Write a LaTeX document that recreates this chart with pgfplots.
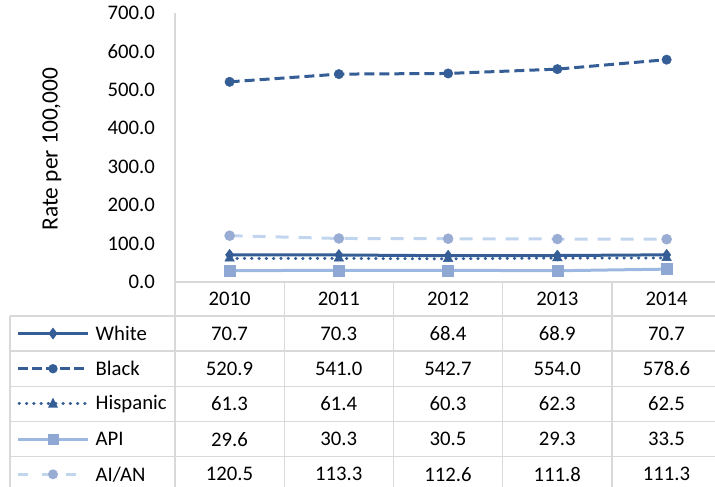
\documentclass[border=0pt]{standalone}
\usepackage{pgfplots}
\pgfplotsset{compat=1.18}
\usepackage{fontspec}
\setmainfont{Carlito}
\definecolor{dk}{HTML}{355E96}
\definecolor{apiL}{HTML}{9DB8E0}
\definecolor{apiM}{HTML}{8EA8D3}
\definecolor{aiL}{HTML}{C2D5EE}
\definecolor{aiM}{HTML}{98ACD4}
\definecolor{grd}{HTML}{D9D9D9}
\begin{document}
\fontsize{20.8}{24}\selectfont
\begin{tikzpicture}
\useasboundingbox (0,0) rectangle (715bp,-487bp);
\begin{axis}[
  at={(175bp,-282bp)}, anchor=south west,
  scale only axis, width=546.25bp, height=269bp,
  xmin=-0.5, xmax=4.5, ymin=0, ymax=700,
  axis x line*=bottom, axis y line*=left,
  axis line style={grd, line width=1.3bp, -},
  xtick=\empty,
  ytick={0,100,...,700},
  major tick length=0pt,
  /pgf/number format/assume math mode=true,
  y tick label style={/pgf/number format/.cd, fixed, fixed zerofill, precision=1, /tikz/.cd},
  yticklabel style={inner sep=0pt, anchor=east, xshift=-20bp},
  tick label style={font=\fontsize{20.8}{24}\selectfont},
  clip=false,
]
\addplot[dk, line width=3bp, mark=diamond*, mark size=5.5bp, mark options={solid, line width=0.5bp, fill=dk}] coordinates {(0,70.7)(1,70.3)(2,68.4)(3,68.9)(4,70.7)};
\addplot[dk, line width=3bp, dash pattern=on 10bp off 5bp, mark=*, mark size=4.7bp, mark options={solid, line width=0.5bp, fill=dk}] coordinates {(0,520.9)(1,541.0)(2,542.7)(3,554.0)(4,578.6)};
\addplot[dk, line width=3bp, line cap=round, dash pattern=on 0.5bp off 6.8bp, mark=triangle*, mark size=5.5bp, mark options={solid, line width=0.5bp, fill=dk}] coordinates {(0,61.3)(1,61.4)(2,60.3)(3,62.3)(4,62.5)};
\addplot[apiL, line width=3bp, mark=square*, mark size=5.5bp, mark options={solid, line width=0.5bp, draw=apiM, fill=apiM}] coordinates {(0,29.6)(1,30.3)(2,30.5)(3,29.3)(4,33.5)};
\addplot[aiL, line width=3bp, dash pattern=on 13bp off 10bp, mark=*, mark size=5bp, mark options={solid, line width=0.5bp, draw=aiM, fill=aiM}] coordinates {(0,120.5)(1,113.3)(2,112.6)(3,111.8)(4,111.3)};
\end{axis}
\begin{scope}[x=1bp, y=-1bp]
\node[rotate=90, font=\fontsize{23.5}{28}\selectfont] at (52,149) {Rate per 100,000};
% table grid
\draw[grd, line width=1.3bp] (10,316) -- (715,316);
\foreach \yy in {351,386.5,421.5,456.5} {\draw[grd, line width=1.3bp] (10,\yy) -- (715,\yy);}
\draw[grd, line width=1.3bp] (10,316) -- (10,492);
\draw[grd, line width=1.3bp] (175,282) -- (175,492);
\foreach \xx in {284.25,393.5,502.75,612} {\draw[grd, line width=1.3bp] (\xx,282) -- (\xx,492);}
% header
\foreach \yr [count=\i from 0] in {2010,2011,2012,2013,2014} {\node at (229.6+109.25*\i,299) {\yr};}
% rows
\foreach \a/\b/\c/\d/\e [count=\r from 0] in {70.7/70.3/68.4/68.9/70.7, 520.9/541.0/542.7/554.0/578.6, 61.3/61.4/60.3/62.3/62.5, 29.6/30.3/30.5/29.3/33.5, 120.5/113.3/112.6/111.8/111.3} {
  \pgfmathsetmacro{\yc}{333.5+35.2*\r}
  \node at (229.6,\yc) {\a};
  \node at (338.85,\yc) {\b};
  \node at (448.1,\yc) {\c};
  \node at (557.35,\yc) {\d};
  \node at (666.6,\yc) {\e};
}
% legend keys
\foreach \t [count=\r from 0] in {White,Black,Hispanic,API,AI/AN} {
  \pgfmathsetmacro{\yc}{333.5+35.2*\r}
  \node[anchor=west, inner sep=0pt] at (95.5,\yc) {\t};
}
\draw[dk, line width=3bp] (18,333.5) -- (88,333.5);
\fill[dk] (53,327.5) -- (57.5,333.5) -- (53,339.5) -- (48.5,333.5) -- cycle;
\draw[dk, line width=3bp, dash pattern=on 10bp off 4bp] (18,368.7) -- (88,368.7);
\fill[dk] (53,368.7) circle (4.7);
\draw[dk, line width=3bp, line cap=round, dash pattern=on 0.5bp off 6.8bp] (19,403.9) -- (88,403.9);
\fill[dk] (53,397.5) -- (58,407.5) -- (48,407.5) -- cycle;
\draw[apiL, line width=3bp] (18,439.1) -- (88,439.1);
\fill[apiM] (47.5,433.6) rectangle (58.5,444.6);
\draw[aiL, line width=3bp, dash pattern=on 10bp off 14bp] (18,474.3) -- (88,474.3);
\fill[aiM] (53,474.3) circle (5);
\end{scope}
\end{tikzpicture}
\end{document}
